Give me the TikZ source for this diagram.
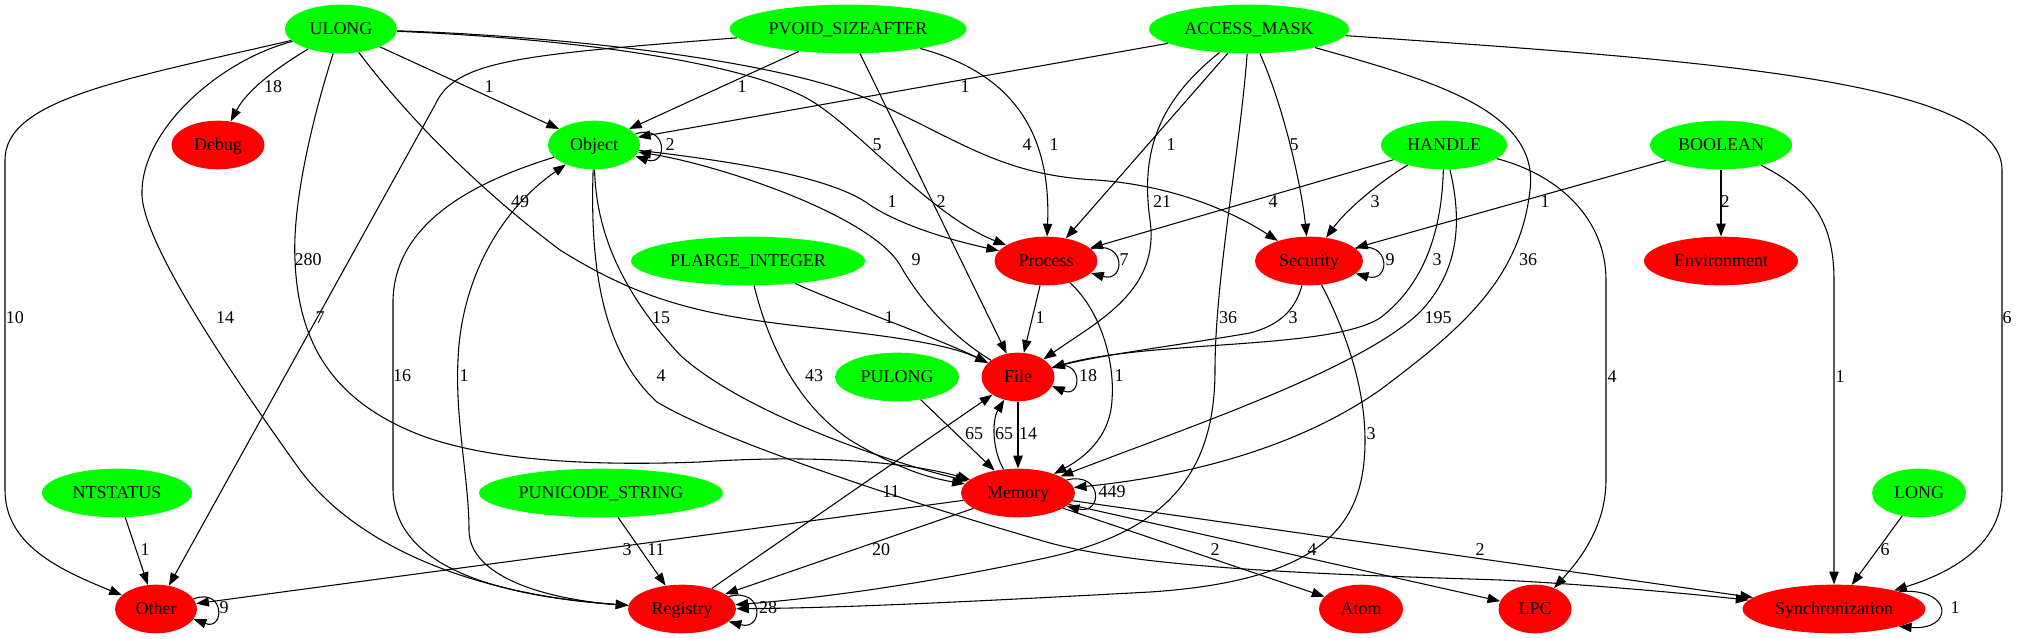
\documentclass[tikz,border=0pt]{standalone}
\usepackage{fontspec}
\setmainfont{Liberation Serif}
\usetikzlibrary{arrows.meta,shapes.geometric}
\definecolor{gn}{RGB}{0,255,0}
\definecolor{rd}{RGB}{255,0,0}
\begin{document}
\begin{tikzpicture}[x=0.75pt,y=-0.75pt,
  nd/.style={ellipse, inner sep=0pt, minimum height=36.5pt, font=\fontsize{13.5}{16}\selectfont, text height=10.5pt, text depth=2pt},
  src/.style={nd, fill=gn},
  dst/.style={nd, fill=rd},
  edg/.style={draw=black, line width=0.8pt, -{Triangle[length=9.5pt,width=7pt]}},
  lbl/.style={inner sep=0pt, font=\fontsize{13.5}{16}\selectfont}]
\useasboundingbox (0,0) rectangle (2017,639);
\fill[white] (0,0) rectangle (2017,639);
% nodes
\node[src, minimum width=84pt] (ULONG) at (341,29) {ULONG};
\node[src, minimum width=177.75pt] (PVOID) at (848,29) {PVOID\_SIZEAFTER};
\node[src, minimum width=150pt] (ACCESS) at (1249,29) {ACCESS\_MASK};
\node[dst, minimum width=69.75pt] (Debug) at (218,145) {Debug};
\node[src, minimum width=69pt] (Object) at (594,145) {Object};
\node[src, minimum width=94.5pt] (HANDLE) at (1444,145) {HANDLE};
\node[src, minimum width=106.5pt] (BOOLEAN) at (1721,145) {BOOLEAN};
\node[src, minimum width=175.5pt] (PLARGE) at (748,261) {PLARGE\_INTEGER};
\node[dst, minimum width=77.25pt] (Process) at (1046,261) {Process};
\node[dst, minimum width=81pt] (Security) at (1309,261) {Security};
\node[dst, minimum width=115.5pt] (Environment) at (1721,261) {Environment};
\node[src, minimum width=93pt] (PULONG) at (897,377) {PULONG};
\node[dst, minimum width=54.75pt] (File) at (1018,377) {File};
\node[src, minimum width=112.5pt] (NTSTATUS) at (117,493) {NTSTATUS};
\node[src, minimum width=183pt] (PUNICODE) at (601,493) {PUNICODE\_STRING};
\node[dst, minimum width=85.5pt] (Memory) at (1018,493) {Memory};
\node[src, minimum width=70.5pt] (LONG) at (1919,493) {LONG};
\node[dst, minimum width=61.5pt] (Other) at (156,609) {Other};
\node[dst, minimum width=81pt] (Registry) at (682,609) {Registry};
\node[dst, minimum width=63pt] (Atom) at (1361,609) {Atom};
\node[dst, minimum width=54.75pt] (LPC) at (1535,609) {LPC};
\node[dst, minimum width=137.25pt] (Sync) at (1834,609) {Synchronization};
% ULONG
\draw[edg] (ULONG) .. controls (290,60) and (250,85) .. (Debug);
\node[lbl] (l1) at (273,87) {18};
\draw[edg] (ULONG) -- (Object);
\node[lbl] (l2) at (489,87) {1};
\draw[edg] (ULONG) .. controls (120,80) and (5,100) .. (5,160) -- (5,490) .. controls (5,545) and (60,570) .. (Other);
\node[lbl] (l3) at (15,318) {10};
\draw[edg] (ULONG) .. controls (220,60) and (140,130) .. (142,195) .. controls (144,250) and (250,400) .. (300,470) .. controls (360,550) and (480,595) .. (Registry);
\node[lbl] (l4) at (225,318) {14};
\draw[edg] (ULONG) .. controls (315,110) and (292,200) .. (295,260) .. controls (298,340) and (330,400) .. (420,435) .. controls (500,465) and (620,465) .. (700,462) .. controls (800,455) and (900,460) .. (Memory);
\node[lbl] (l5) at (308,260) {280};
\draw[edg] (ULONG) .. controls (410,120) and (480,190) .. (560,250) .. controls (640,300) and (700,315) .. (807,327) .. controls (900,337) and (950,345) .. (File);
\node[lbl] (l6) at (520,202) {49};
\draw[edg] (ULONG) .. controls (560,38) and (740,60) .. (810,100) .. controls (860,130) and (930,215) .. (Process);
\node[lbl] (l7) at (877,145) {5};
\draw[edg] (ULONG) .. controls (560,36) and (780,60) .. (870,100) .. controls (960,140) and (1000,175) .. (1096,180) .. controls (1170,185) and (1230,210) .. (Security);
\node[lbl] (l8) at (1027,145) {4};
% PVOID
\draw[edg] (PVOID) -- (Object);
\node[lbl] (l9) at (742,87) {1};
\draw[edg] (PVOID) .. controls (520,55) and (455,60) .. (435,105) -- (Other);
\node[lbl] (l10) at (320,318) {7};
\draw[edg] (PVOID) -- (File);
\node[lbl] (l11) at (941,202) {2};
\draw[edg] (PVOID) .. controls (1000,70) and (1052,120) .. (Process);
\node[lbl] (l12) at (1054,145) {1};
% ACCESS_MASK
\draw[edg] (ACCESS) -- (Object);
\node[lbl] (l13) at (965,87) {1};
\draw[edg] (ACCESS) -- (Process);
\node[lbl] (l14) at (1171,145) {1};
\draw[edg] (ACCESS) .. controls (1160,100) and (1140,150) .. (1150,220) .. controls (1160,290) and (1100,320) .. (File);
\node[lbl] (l15) at (1162,202) {21};
\draw[edg] (ACCESS) .. controls (1285,110) and (1302,190) .. (Security);
\node[lbl] (l16) at (1294,145) {5};
\draw[edg] (ACCESS) .. controls (1240,150) and (1215,280) .. (1215,370) .. controls (1215,470) and (1170,530) .. (1050,557) .. controls (920,585) and (820,598) .. (Registry);
\node[lbl] (l17) at (1228,318) {36};
\draw[edg] (ACCESS) .. controls (1430,80) and (1540,110) .. (1530,190) .. controls (1520,280) and (1460,330) .. (1380,390) .. controls (1280,460) and (1150,480) .. (Memory);
\node[lbl] (l18) at (1528,260) {36};
\draw[edg] (ACCESS) .. controls (1700,60) and (2002,80) .. (2002,170) -- (2002,490) .. controls (2002,540) and (1960,570) .. (Sync);
\node[lbl] (l19) at (2007,318) {6};
% HANDLE
\draw[edg] (HANDLE) -- (Process);
\node[lbl] (l20) at (1273,202) {4};
\draw[edg] (HANDLE) .. controls (1390,175) and (1350,205) .. (Security);
\node[lbl] (l21) at (1375,202) {3};
\draw[edg] (HANDLE) .. controls (1442,220) and (1430,280) .. (1380,318) .. controls (1330,350) and (1150,340) .. (File);
\node[lbl] (l22) at (1437,260) {3};
\draw[edg] (HANDLE) .. controls (1462,220) and (1460,270) .. (1420,312) .. controls (1360,370) and (1180,430) .. (Memory);
\node[lbl] (l23) at (1438,318) {195};
\draw[edg] (HANDLE) .. controls (1560,175) and (1606,220) .. (1606,280) -- (1606,480) .. controls (1606,530) and (1575,565) .. (LPC);
\node[lbl] (l24) at (1612,377) {4};
% BOOLEAN
\draw[edg] (BOOLEAN) -- (Security);
\node[lbl] (l25) at (1545,202) {1};
\draw[edg] (BOOLEAN) -- (Environment);
\node[lbl] (l26) at (1725,202) {2};
\draw[edg] (BOOLEAN) .. controls (1810,190) and (1834,220) .. (1834,280) -- (Sync);
\node[lbl] (l27) at (1840,377) {1};
% Object
\draw[edg] (Object.15) .. controls (668,123) and (668,167) .. (Object.-15);
\node[lbl] (l28) at (670,145) {2};
\draw[edg] (Object) .. controls (720,160) and (830,175) .. (870,205) .. controls (900,225) and (950,240) .. (Process);
\node[lbl] (l29) at (892,202) {1};
\draw[edg] (File) .. controls (950,335) and (920,300) .. (900,265) .. controls (870,215) and (720,165) .. (Object);
\node[lbl] (l30) at (916,260) {9};
\draw[edg] (Object) .. controls (596,230) and (620,290) .. (680,355) .. controls (740,410) and (880,460) .. (Memory);
\node[lbl] (l31) at (661,318) {15};
\draw[edg] (Object) .. controls (480,180) and (395,220) .. (393,300) -- (393,490) .. controls (395,560) and (480,595) .. (Registry);
\node[lbl] (l32) at (402,376) {16};
\draw[edg] (Registry) .. controls (540,600) and (469,575) .. (469,530) .. controls (469,480) and (455,420) .. (458,360) .. controls (461,280) and (500,210) .. (Object);
\node[lbl] (l33) at (464,376) {1};
\draw[edg] (Object) .. controls (590,260) and (600,350) .. (657,402) .. controls (720,440) and (900,500) .. (1050,543) .. controls (1150,570) and (1350,575) .. (1500,580) .. controls (1600,585) and (1700,595) .. (Sync);
\node[lbl] (l34) at (661,376) {4};
% PLARGE_INTEGER
\draw[edg] (PLARGE) .. controls (830,300) and (930,335) .. (File);
\node[lbl] (l35) at (889,318) {1};
\draw[edg] (PLARGE) .. controls (765,330) and (790,400) .. (850,440) .. controls (900,470) and (930,478) .. (Memory);
\node[lbl] (l36) at (814,376) {43};
% Process
\draw[edg] (Process.15) .. controls (1126,239) and (1126,283) .. (Process.-15);
\node[lbl] (l37) at (1124,260) {7};
\draw[edg] (Process) -- (File);
\node[lbl] (l38) at (1040,318) {1};
\draw[edg] (Process) .. controls (1100,310) and (1115,360) .. (1112,400) .. controls (1110,440) and (1080,460) .. (Memory);
\node[lbl] (l39) at (1119,376) {1};
% Security
\draw[edg] (Security.15) .. controls (1391,239) and (1391,283) .. (Security.-15);
\node[lbl] (l40) at (1390,260) {9};
\draw[edg] (Security) .. controls (1295,310) and (1280,325) .. (1250,333) .. controls (1180,345) and (1100,355) .. (File);
\node[lbl] (l41) at (1293,318) {3};
\draw[edg] (Security) .. controls (1340,320) and (1365,380) .. (1365,440) .. controls (1365,520) and (1330,580) .. (1150,592) .. controls (1000,600) and (850,608) .. (Registry);
\node[lbl] (l42) at (1371,434) {3};
% PULONG, File, Memory
\draw[edg] (PULONG) -- (Memory);
\node[lbl] (l43) at (974,434) {65};
\draw[edg] (File.15) .. controls (1083,355) and (1083,399) .. (File.-15);
\node[lbl] (l44) at (1088,376) {18};
\draw[edg] (File) -- (Memory);
\node[lbl] (l45) at (1028,434) {14};
\draw[edg] (Memory) .. controls (992,450) and (992,420) .. (File);
\node[lbl] (l46) at (1004,434) {65};
\draw[edg] (Memory.15) .. controls (1103,471) and (1103,515) .. (Memory.-15);
\node[lbl] (l47) at (1112,492) {449};
\draw[edg] (Memory) -- (Other);
\node[lbl] (l48) at (627,550) {3};
\draw[edg] (Memory) -- (Registry);
\node[lbl] (l49) at (881,550) {20};
\draw[edg] (Memory) -- (Atom);
\node[lbl] (l50) at (1215,550) {2};
\draw[edg] (Memory) -- (LPC);
\node[lbl] (l51) at (1312,550) {4};
\draw[edg] (Memory) -- (Sync);
\node[lbl] (l52) at (1480,550) {2};
% Registry
\draw[edg] (Registry) -- (File);
\node[lbl] (l53) at (891,492) {11};
\draw[edg] (Registry.15) .. controls (764,587) and (764,631) .. (Registry.-15);
\node[lbl] (l54) at (768,608) {28};
% others
\draw[edg] (NTSTATUS) -- (Other);
\node[lbl] (l55) at (145,550) {1};
\draw[edg] (PUNICODE) -- (Registry);
\node[lbl] (l56) at (656,550) {11};
\draw[edg] (Other.15) .. controls (225,587) and (225,631) .. (Other.-15);
\node[lbl] (l57) at (224,608) {9};
\draw[edg] (LONG) -- (Sync);
\node[lbl] (l58) at (1885,550) {6};
\draw[edg] (Sync.15) .. controls (1954,587) and (1954,631) .. (Sync.-15);
\node[lbl] (l59) at (1955,608) {1};
\end{tikzpicture}
\end{document}
